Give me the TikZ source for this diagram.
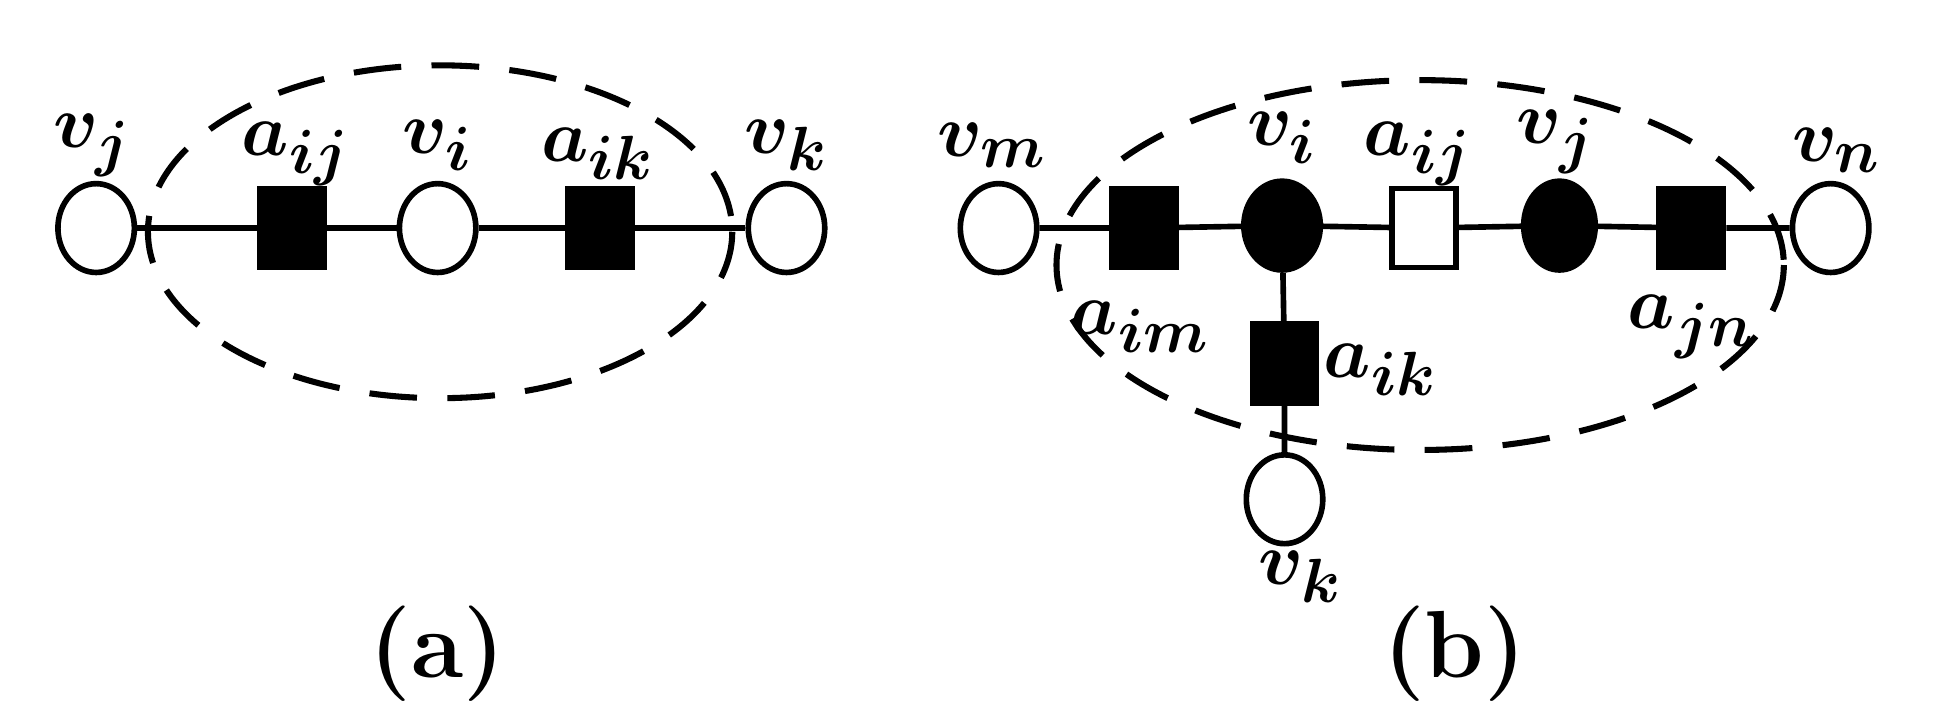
\documentclass[tikz,border=0pt]{standalone}
\usepackage{amsmath,bm}
\usetikzlibrary{shapes.geometric}
\begin{document}
\begin{tikzpicture}[x=0.01cm,y=-0.01cm,line width=1.3pt,
 circ/.style={draw,ellipse,minimum width=0.62cm,minimum height=0.72cm,inner sep=0pt,fill=white},
 fcirc/.style={circ,fill=black},
 sq/.style={draw,fill=black,minimum width=0.52cm,minimum height=0.64cm,inner sep=0pt},
 wsq/.style={sq,fill=white},
 lab/.style={font=\fontsize{19}{22}\selectfont,inner sep=0pt},
 dashed ell/.style={dash pattern=on 11pt off 7pt,line width=1.4pt}]
\useasboundingbox (0,0) rectangle (1568,573);
% (a)
\draw[dashed ell] (357,188) ellipse [x radius=237,y radius=135];
\node[circ] (vj) at (78,185) {};
\node[sq] (aij) at (237,185) {};
\node[circ] (vi) at (355,185) {};
\node[sq] (aik) at (487,185) {};
\node[circ] (vk) at (638,185) {};
\draw (vj)--(aij)--(vi)--(aik)--(vk);
\node[lab] at (75,118) {$\bm{v_j}$};
\node[lab] at (240,125) {$\bm{a_{ij}}$};
\node[lab] at (355,118) {$\bm{v_i}$};
\node[lab] at (485,125) {$\bm{a_{ik}}$};
\node[lab] at (638,118) {$\bm{v_k}$};
\node[font=\fontsize{22}{26}\selectfont\bfseries] at (355,530) {(a)};
% (b)
\draw[dashed ell] (1152,215) ellipse [x radius=295,y radius=150];
\node[circ] (bm) at (810,185) {};
\node[sq] (bim) at (928,185) {};
\node[fcirc] (bi) at (1040,183) {};
\node[wsq] (bij) at (1155,185) {};
\node[fcirc,minimum width=0.58cm] (bj) at (1265,183) {};
\node[sq] (bjn) at (1372,185) {};
\node[circ] (bn) at (1485,185) {};
\node[sq] (bik) at (1042,295) {};
\node[circ] (bk) at (1042,405) {};
\draw (bm)--(bim)--(bi)--(bij)--(bj)--(bjn)--(bn);
\draw (bi)--(bik)--(bk);
\node[lab] at (805,118) {$\bm{v_m}$};
\node[lab] at (1040,112) {$\bm{v_i}$};
\node[lab] at (1150,125) {$\bm{a_{ij}}$};
\node[lab] at (1262,115) {$\bm{v_j}$};
\node[lab] at (1490,122) {$\bm{v_n}$};
\node[lab] at (925,265) {$\bm{a_{im}}$};
\node[lab] at (1372,265) {$\bm{a_{jn}}$};
\node[lab] at (1120,300) {$\bm{a_{ik}}$};
\node[lab] at (1055,468) {$\bm{v_k}$};
\node[font=\fontsize{22}{26}\selectfont\bfseries] at (1180,530) {(b)};
\end{tikzpicture}
\end{document}
